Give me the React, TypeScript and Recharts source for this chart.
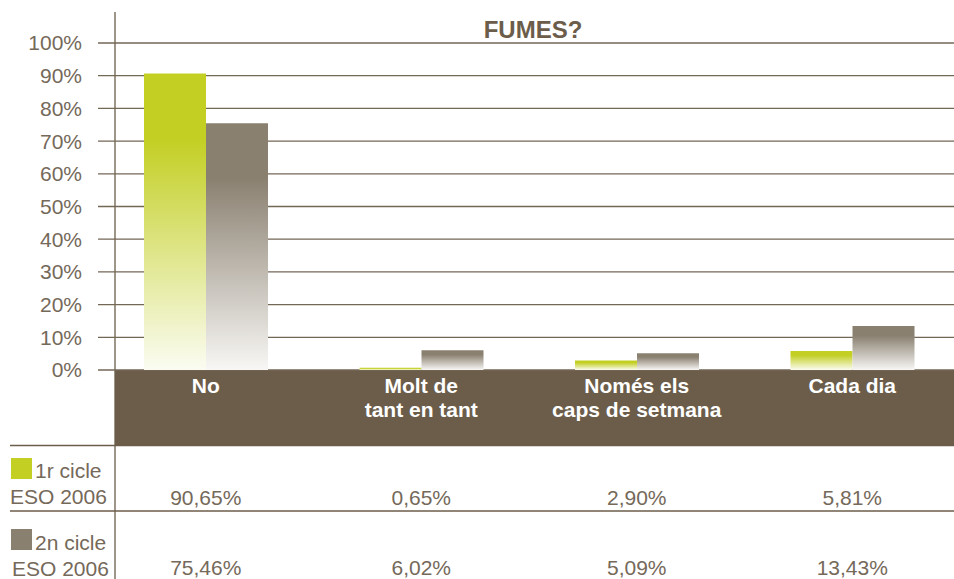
import React from 'react';
import { BarChart, Bar, XAxis, YAxis, CartesianGrid } from 'recharts';

const categories = ['No', 'Molt de tant en tant', 'Només els caps de setmana', 'Cada dia'];
const categoryLines = [['No'], ['Molt de', 'tant en tant'], ['Només els', 'caps de setmana'], ['Cada dia']];
const cicle1 = [90.65, 0.65, 2.9, 5.81];
const cicle2 = [75.46, 6.02, 5.09, 13.43];
const yTicks = [0, 10, 20, 30, 40, 50, 60, 70, 80, 90, 100];
const seriesNames = [['1r cicle', 'ESO 2006'], ['2n cicle', 'ESO 2006']];
const title = 'FUMES?';

const data = categories.map((c, i) => ({ cat: c, c1: cicle1[i], c2: cicle2[i] }));

const FONT = '"Liberation Sans", Arial, Helvetica, sans-serif';
const BROWN = '#6b5d4a';
const TEXT = '#75695a';
const GREEN = '#c3cf23';
const GRAY = '#8a8070';

const fmt = (v: number) => v.toFixed(2).replace('.', ',') + '%';

const CategoryTick = (props: any) => {
  const { x, y, payload } = props;
  const i = payload.index;
  const lines = categoryLines[i] || [];
  return (
    <g>
      {lines.map((l, k) => (
        <text key={k} x={x} y={y + 23 + k * 24} textAnchor="middle" fill="#ffffff" fontFamily={FONT} fontWeight="bold" fontSize={21}>
          {l}
        </text>
      ))}
      <text x={x} y={y + 135} textAnchor="middle" fill={TEXT} fontFamily={FONT} fontSize={21}>
        {fmt(cicle1[i])}
      </text>
      <text x={x} y={y + 205} textAnchor="middle" fill={TEXT} fontFamily={FONT} fontSize={21}>
        {fmt(cicle2[i])}
      </text>
    </g>
  );
};

export default function App() {
  return (
    <div style={{ position: 'absolute', left: 0, top: 0, width: 954, height: 579, background: '#fff', overflow: 'hidden' }}>
      <svg width={954} height={579} style={{ position: 'absolute', left: 0, top: 0 }}>
        <rect x={115} y={370} width={839} height={75.5} fill={BROWN} />
        <line x1={10} x2={954} y1={445.5} y2={445.5} stroke={BROWN} strokeWidth={1.3} />
        <line x1={10} x2={954} y1={511} y2={511} stroke={BROWN} strokeWidth={1.3} />
        <line x1={115} x2={115} y1={12} y2={579} stroke={BROWN} strokeWidth={1.3} />
        <text x={533} y={38} textAnchor="middle" fill={BROWN} fontFamily={FONT} fontWeight="bold" fontSize={24}>
          {title}
        </text>
        <rect x={11} y={458} width={21} height={21} fill={GREEN} />
        <text x={35} y={478} fill={TEXT} fontFamily={FONT} fontSize={21}>{seriesNames[0][0]}</text>
        <text x={10} y={504} fill={TEXT} fontFamily={FONT} fontSize={21}>{seriesNames[0][1]}</text>
        <rect x={11} y={529} width={21} height={21} fill={GRAY} />
        <text x={35} y={550} fill={TEXT} fontFamily={FONT} fontSize={21}>{seriesNames[1][0]}</text>
        <text x={12} y={576} fill={TEXT} fontFamily={FONT} fontSize={21}>{seriesNames[1][1]}</text>
      </svg>
      <div style={{ position: 'absolute', left: 0, top: 0 }}>
        <BarChart width={954} height={579} data={data} margin={{ top: 43, right: 0, bottom: 0, left: 0 }} barCategoryGap={46} barGap={0}>
          <defs>
            <linearGradient id="gGreen" x1="0" y1="0" x2="0" y2="1">
              <stop offset="0%" stopColor={GREEN} />
              <stop offset="22%" stopColor={GREEN} />
              <stop offset="100%" stopColor="#fbfcf2" />
            </linearGradient>
            <linearGradient id="gGray" x1="0" y1="0" x2="0" y2="1">
              <stop offset="0%" stopColor={GRAY} />
              <stop offset="22%" stopColor={GRAY} />
              <stop offset="100%" stopColor="#f8f7f5" />
            </linearGradient>
          </defs>
          <CartesianGrid vertical={false} stroke="#736756" strokeWidth={1.3} />
          <XAxis
            dataKey="cat"
            height={209}
            axisLine={false}
            tickLine={false}
            tickSize={0}
            tickMargin={0}
            interval={0}
            padding={{ left: 0, right: -6 }}
            tick={<CategoryTick />}
          />
          <YAxis
            width={98}
            domain={[0, 100]}
            ticks={yTicks}
            tickFormatter={(v: number) => `${v}%`}
            axisLine={false}
            tickLine={false}
            tickSize={0}
            tickMargin={16}
            tick={{ fill: TEXT, fontSize: 21, fontFamily: FONT }}
          />
          <Bar dataKey="c1" fill="url(#gGreen)" isAnimationActive={false} />
          <Bar dataKey="c2" fill="url(#gGray)" isAnimationActive={false} />
        </BarChart>
      </div>
    </div>
  );
}
